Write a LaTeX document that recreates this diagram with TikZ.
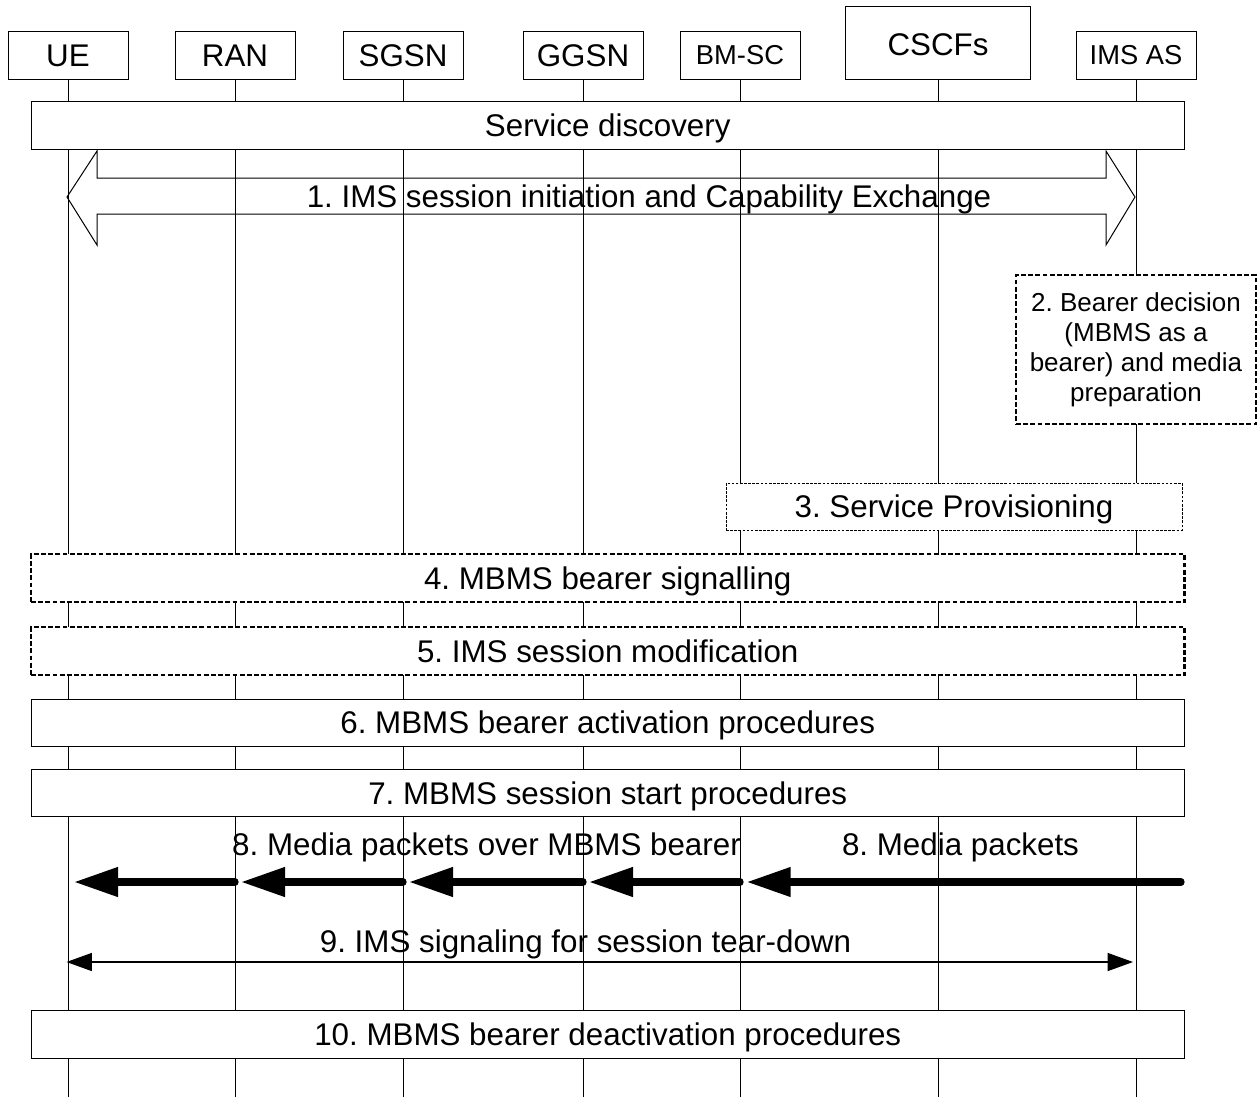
\documentclass[tikz,border=0pt]{standalone}
\usepackage{fontspec}
\setmainfont{Liberation Sans}
\usetikzlibrary{arrows.meta,calc}
\frenchspacing
\newcommand\lblfont{\fontsize{23.5pt}{27pt}\selectfont}
\newcommand\hdrfont{\fontsize{23.5pt}{27pt}\selectfont}
\newcommand\hsmallfont{\fontsize{20.5pt}{24pt}\selectfont}
\newcommand\boxtwofont{\fontsize{19.5pt}{22.5pt}\selectfont}
\begin{document}
\begin{tikzpicture}[x=0.75pt,y=-0.75pt,
  ctr/.style={text height=21.9pt,text depth=5pt},
  ctrs/.style={text height=18.6pt,text depth=4pt},
  hdr/.style={draw,line width=0.75pt,fill=white,minimum width=90pt,minimum height=36pt,inner sep=0pt,font=\hdrfont,ctr},
  life/.style={line width=0.75pt},
  wide/.style={draw,line width=0.75pt,fill=white,minimum width=865pt,minimum height=36pt,inner sep=0pt,font=\lblfont,ctr},
  thickdash/.style={line width=1.9pt,dash pattern=on 3.6pt off 1.8pt},
  thindot/.style={line width=0.75pt,dash pattern=on 2pt off 1.1pt},
  media/.style={line width=5.5pt,line cap=round,-{Triangle[length=33pt,width=21pt]}},
  sig/.style={line width=0.9pt,{Triangle[length=19pt,width=13.5pt]}-{Triangle[length=19pt,width=13.5pt]}},
  plainlbl/.style={inner sep=0pt,font=\lblfont,ctr}
]
\useasboundingbox (0,0) rectangle (1258,1101);
\fill[white] (0,0) rectangle (1258,1101);

% header boxes
\node[hdr] (ue)   at (68,55)    {UE};
\node[hdr] (ran)  at (235,55)   {RAN};
\node[hdr] (sgsn) at (403,55)   {SGSN};
\node[hdr] (ggsn) at (583,55)   {GGSN};
\node[hdr,font=\hsmallfont,ctrs] (bmsc) at (740,55) {BM-SC};
\node[hdr,minimum width=138.75pt,minimum height=54.75pt] (cscf) at (938,42.5) {};
\node[inner sep=0pt,font=\hdrfont,ctr] (cscflbl) at (938,44) {CSCFs};
\node[hdr,font=\hsmallfont,ctrs] (ims) at (1136,55) {IMS AS};

% lifelines
\foreach \n in {ue,ran,sgsn,ggsn,bmsc,cscf,ims}{
  \coordinate (\n-end) at (\n.south |- 0,1097);
  \draw[life] (\n.south) -- (\n-end);
}

% Service discovery
\node[wide] (sd) at (607.75,125) {Service discovery};

% 1. big double arrow
\coordinate (capL) at (67,197);
\coordinate (capR) at (1135,197);
\draw[line width=0.75pt] (capL) -- ++(30,-46) -- ++(0,27) -- ($(capR)+(-29,-19)$) -- ++(0,-27)
  -- (capR) -- ++(-29,48) -- ++(0,-31) -- ($(capL)+(30,17)$) -- ++(0,31) -- cycle;
\node[plainlbl] (l1) at (649,196) {1. IMS session initiation and Capability Exchange};

% 2. bearer decision
\node[draw,thickdash,fill=white,minimum width=180pt,minimum height=111.75pt,inner sep=0pt,
  align=center,font=\boxtwofont] (b2) at (1136,349.5)
  {2. Bearer decision\\(MBMS as a\\bearer) and media\\preparation};

% 3. service provisioning
\node[draw,thindot,fill=white,minimum width=342pt,minimum height=35.25pt,inner sep=0pt,font=\lblfont,ctr]
  (b3) at (954,506.5) {3. Service Provisioning};

% 4, 5 dashed
\node[wide,thickdash] (b4) at (607.75,578) {4. MBMS bearer signalling};
\node[wide,thickdash] (b5) at (607.75,651) {5. IMS session modification};

% 6, 7
\node[wide,minimum height=35.25pt] (b6) at (607.75,722.5) {6. MBMS bearer activation procedures};
\node[wide,minimum height=35.25pt] (b7) at (607.75,793) {7. MBMS session start procedures};

% 8. media packets
\node[plainlbl] (l8a) at (486.5,844) {8. Media packets over MBMS bearer};
\node[plainlbl] (l8b) at (960.5,844) {8. Media packets};
\coordinate (src) at (1181,882);
\foreach \n in {ue,ran,sgsn,ggsn,bmsc}{
  \coordinate (m-\n) at (\n.south |- 0,882);
}
\draw[media] (src) -- ([xshift=5pt]m-bmsc);
\draw[media] (m-bmsc) -- ([xshift=4.5pt]m-ggsn);
\draw[media] (m-ggsn) -- ([xshift=4.5pt]m-sgsn);
\draw[media] (m-sgsn) -- ([xshift=4.5pt]m-ran);
\draw[media] (m-ran) -- ([xshift=4.5pt]m-ue);

% 9. teardown signalling
\node[plainlbl] (l9) at (585.5,941) {9. IMS signaling for session tear-down};
\coordinate (s9L) at (66.5,962);
\coordinate (s9R) at (1133,962);
\draw[sig] (s9L) -- (s9R);

% 10
\node[wide] (b10) at (607.75,1034) {10. MBMS bearer deactivation procedures};
\end{tikzpicture}
\end{document}
